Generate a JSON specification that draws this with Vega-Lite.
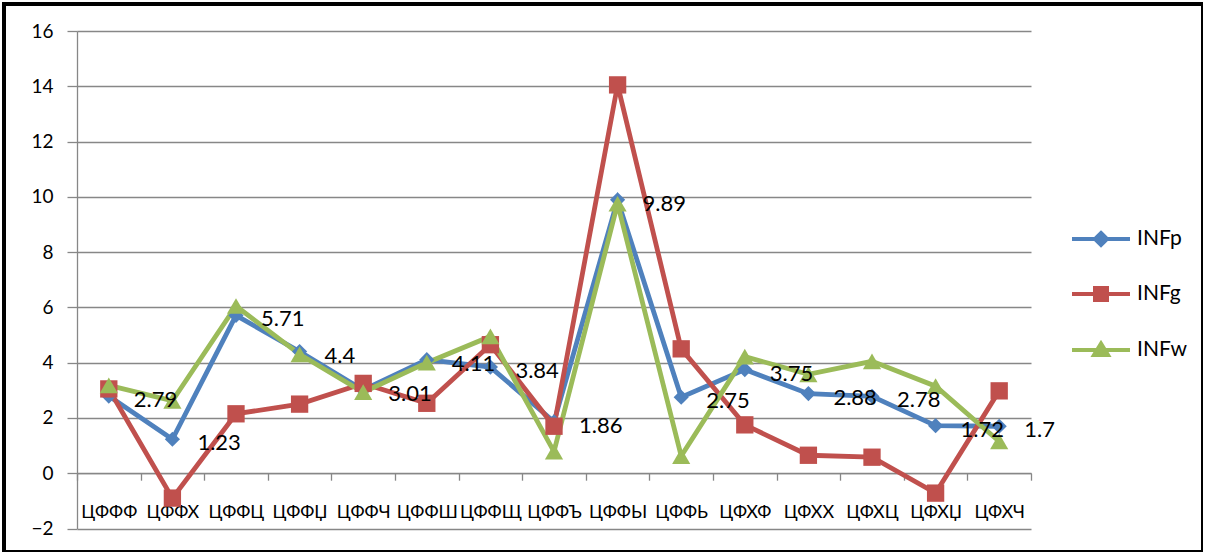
{
  "$schema": "https://vega.github.io/schema/vega-lite/v6.json",
  "autosize": {"type": "none"},
  "padding": {"left": 4, "top": 4, "right": 0, "bottom": 0},
  "width": 1199,
  "height": 548,
  "background": "white",
  "config": {
    "font": "Lato",
    "view": {"stroke": "black", "strokeWidth": 4, "fill": "white"},
    "legend": {
      "orient": "none",
      "legendX": 1085,
      "legendY": 223,
      "padding": 0,
      "title": null,
      "labelFont": "Lato",
      "labelFontSize": 21,
      "labelColor": "black",
      "labelOffset": 24,
      "rowPadding": 27,
      "symbolSize": 400,
      "symbolStrokeWidth": 4
    }
  },
  "data": {
    "values": [
      {"year": "ЦФФФ", "series": "INFp", "value": 2.79},
      {"year": "ЦФФХ", "series": "INFp", "value": 1.23},
      {"year": "ЦФФЦ", "series": "INFp", "value": 5.71},
      {"year": "ЦФФЏ", "series": "INFp", "value": 4.4},
      {"year": "ЦФФЧ", "series": "INFp", "value": 3.01},
      {"year": "ЦФФШ", "series": "INFp", "value": 4.11},
      {"year": "ЦФФЩ", "series": "INFp", "value": 3.84},
      {"year": "ЦФФЪ", "series": "INFp", "value": 1.86},
      {"year": "ЦФФЫ", "series": "INFp", "value": 9.89},
      {"year": "ЦФФЬ", "series": "INFp", "value": 2.75},
      {"year": "ЦФХФ", "series": "INFp", "value": 3.75},
      {"year": "ЦФХХ", "series": "INFp", "value": 2.88},
      {"year": "ЦФХЦ", "series": "INFp", "value": 2.78},
      {"year": "ЦФХЏ", "series": "INFp", "value": 1.72},
      {"year": "ЦФХЧ", "series": "INFp", "value": 1.7},
      {"year": "ЦФФФ", "series": "INFg", "value": 3.05},
      {"year": "ЦФФХ", "series": "INFg", "value": -0.9},
      {"year": "ЦФФЦ", "series": "INFg", "value": 2.15},
      {"year": "ЦФФЏ", "series": "INFg", "value": 2.5},
      {"year": "ЦФФЧ", "series": "INFg", "value": 3.25},
      {"year": "ЦФФШ", "series": "INFg", "value": 2.53},
      {"year": "ЦФФЩ", "series": "INFg", "value": 4.65},
      {"year": "ЦФФЪ", "series": "INFg", "value": 1.7},
      {"year": "ЦФФЫ", "series": "INFg", "value": 14.05},
      {"year": "ЦФФЬ", "series": "INFg", "value": 4.5},
      {"year": "ЦФХФ", "series": "INFg", "value": 1.75},
      {"year": "ЦФХХ", "series": "INFg", "value": 0.65},
      {"year": "ЦФХЦ", "series": "INFg", "value": 0.58},
      {"year": "ЦФХЏ", "series": "INFg", "value": -0.72},
      {"year": "ЦФХЧ", "series": "INFg", "value": 2.98},
      {"year": "ЦФФФ", "series": "INFw", "value": 3.18},
      {"year": "ЦФФХ", "series": "INFw", "value": 2.62},
      {"year": "ЦФФЦ", "series": "INFw", "value": 6.05},
      {"year": "ЦФФЏ", "series": "INFw", "value": 4.3},
      {"year": "ЦФФЧ", "series": "INFw", "value": 2.93},
      {"year": "ЦФФШ", "series": "INFw", "value": 4.0},
      {"year": "ЦФФЩ", "series": "INFw", "value": 4.95},
      {"year": "ЦФФЪ", "series": "INFw", "value": 0.78},
      {"year": "ЦФФЫ", "series": "INFw", "value": 9.75},
      {"year": "ЦФФЬ", "series": "INFw", "value": 0.62},
      {"year": "ЦФХФ", "series": "INFw", "value": 4.22},
      {"year": "ЦФХХ", "series": "INFw", "value": 3.58},
      {"year": "ЦФХЦ", "series": "INFw", "value": 4.05},
      {"year": "ЦФХЏ", "series": "INFw", "value": 3.15},
      {"year": "ЦФХЧ", "series": "INFw", "value": 1.15}
    ]
  },
  "encoding": {
    "x": {
      "field": "year",
      "type": "nominal",
      "sort": ["ЦФФФ","ЦФФХ","ЦФФЦ","ЦФФЏ","ЦФФЧ","ЦФФШ","ЦФФЩ","ЦФФЪ","ЦФФЫ","ЦФФЬ","ЦФХФ","ЦФХХ","ЦФХЦ","ЦФХЏ","ЦФХЧ"],
      "scale": {"range": [73, 1027], "paddingInner": 0, "paddingOuter": 0},
      "axis": {
        "title": null,
        "orient": "bottom",
        "offset": -78.8,
        "tickBand": "extent",
        "ticks": true,
        "tickSize": 7,
        "tickColor": "#878787",
        "tickWidth": 1.3,
        "domain": true,
        "domainColor": "#878787",
        "domainWidth": 1.3,
        "labelAngle": 0,
        "labelFont": "Lato",
        "labelFontSize": 18,
        "labelColor": "black",
        "labelPadding": 23,
        "grid": false
      }
    },
    "y": {
      "field": "value",
      "type": "quantitative",
      "scale": {"domain": [-2, 16], "range": [524.5, 27], "nice": false, "zero": false},
      "axis": {
        "title": null,
        "orient": "left",
        "offset": -73,
        "values": [-2, 0, 2, 4, 6, 8, 10, 12, 14, 16],
        "grid": true,
        "gridColor": "#878787",
        "gridWidth": 1.3,
        "domainColor": "#878787",
        "domainWidth": 1.3,
        "tickColor": "#878787",
        "tickWidth": 1.3,
        "tickSize": 10,
        "labelFont": "Lato",
        "labelFontSize": 19,
        "labelColor": "black",
        "labelPadding": 14
      }
    }
  },
  "layer": [
    {
      "mark": {"type": "line", "strokeWidth": 4.8},
      "encoding": {
        "color": {
          "field": "series",
          "type": "nominal",
          "sort": ["INFp", "INFg", "INFw"],
          "scale": {"domain": ["INFp", "INFg", "INFw"], "range": ["#4F81BD", "#C0504D", "#9BBB59"]},
          "legend": {
            "symbolType": "M-2.9,0H2.9",
            "encode": {
              "symbols": {
                "update": {
                  "shape": {"signal": "datum.value === 'INFp' ? 'M-2.9,0H2.9M0,-0.6L0.6,0L0,0.6L-0.6,0Z' : datum.value === 'INFg' ? 'M-2.9,0H2.9M-0.6,-0.6H0.6V0.6H-0.6Z' : 'M-2.9,0H2.9M0,-0.65L0.7,0.5H-0.7Z'"},
                  "fill": {"scale": "color", "field": "value"},
                  "stroke": {"scale": "color", "field": "value"},
                  "strokeWidth": {"value": 4},
                  "opacity": {"value": 1}
                }
              }
            }
          }
        }
      }
    },
    {
      "transform": [{"filter": "datum.series === 'INFp'"}],
      "mark": {"type": "point", "filled": true, "opacity": 1, "shape": "diamond", "size": 230},
      "encoding": {
        "color": {"field": "series", "type": "nominal", "legend": null}
      }
    },
    {
      "transform": [{"filter": "datum.series === 'INFg'"}],
      "mark": {"type": "point", "filled": true, "opacity": 1, "shape": "square", "size": 300},
      "encoding": {
        "color": {"field": "series", "type": "nominal", "legend": null}
      }
    },
    {
      "transform": [{"filter": "datum.series === 'INFw'"}],
      "mark": {"type": "point", "filled": true, "opacity": 1, "shape": "triangle-up", "size": 330},
      "encoding": {
        "color": {"field": "series", "type": "nominal", "legend": null}
      }
    },
    {
      "transform": [{"filter": "datum.series === 'INFp'"}],
      "mark": {"type": "text", "align": "left", "baseline": "middle", "dx": 25, "dy": 4, "font": "Lato", "fontSize": 22, "color": "black"},
      "encoding": {
        "text": {"field": "value", "type": "quantitative"}
      }
    }
  ]
}
